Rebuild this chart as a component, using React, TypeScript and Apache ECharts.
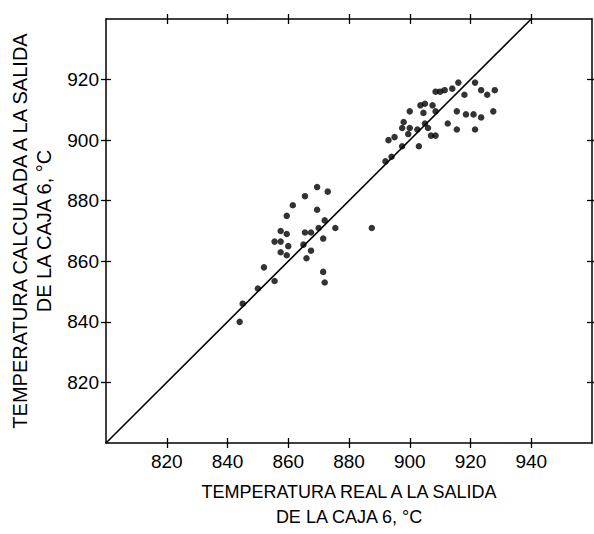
import React, { useEffect, useRef } from "react";
import * as echarts from "echarts";

const xTicks = [820, 840, 860, 880, 900, 920, 940];
const yTicks = [820, 840, 860, 880, 900, 920];
const xTitle = "TEMPERATURA REAL A LA SALIDA\nDE LA CAJA 6, °C";
const yTitle = "TEMPERATURA CALCULADA A LA SALIDA\nDE LA CAJA 6, °C";
const identityLine = [[800, 800], [940, 940]];

const realTemp = [
  844, 845, 850, 855.5, 852, 857.5, 859.5, 860, 855.5, 857.5, 859.5, 857.5, 859.5, 861.5, 865.5,
  869.5, 873, 869.5, 872, 875.5, 870, 865.5, 867.5, 871.5, 865, 867.5, 866, 871.5, 872, 887.5,
  892, 894, 893, 895, 897.5, 903, 898, 897.5, 900, 902.5, 899.5, 900, 903.5, 905, 907.5,
  908.5, 904.5, 905, 906, 907, 908.5, 908.5, 910, 911.5, 914, 916, 918, 921.5, 923.5, 925.5,
  928, 915.5, 912.5, 918.5, 921, 923.5, 927.5, 915.5, 921.5,
];
const calcTemp = [
  840, 846, 851, 853.5, 858, 863, 862, 865, 866.5, 866.5, 869, 870, 875, 878.5, 881.5,
  884.5, 883, 877, 873.5, 871, 871, 869.5, 869.5, 867.5, 865.5, 863.5, 861, 856.5, 853, 871,
  893, 894.5, 900, 901, 898, 898, 906, 904, 904, 903.5, 902, 909.5, 911.5, 912, 911.5,
  909.5, 909, 905.5, 904, 901.5, 901.5, 916, 916, 916.5, 917, 919, 915, 919, 916.5, 915,
  916.5, 909.5, 905.5, 908.5, 908.5, 907.5, 909.5, 903.5, 903.5,
];

const FONT = "'Liberation Sans', Arial, Helvetica, sans-serif";
const INK = "#000000";

export default function App() {
  const ref = useRef<HTMLDivElement>(null);
  useEffect(() => {
    if (!ref.current) return;
    const chart = echarts.init(ref.current, undefined, { renderer: "svg" });
    const points = realTemp.map((x, i) => [x, calcTemp[i]]);
    const lineStyle = { color: INK, width: 1.5 };
    const baseX = {
      type: "value" as const,
      min: 800,
      max: 960,
      interval: 20,
      splitLine: { show: false },
    };
    const baseY = {
      type: "value" as const,
      min: 800,
      max: 940,
      interval: 20,
      splitLine: { show: false },
    };
    const tick = (vals: number[], inside: boolean) => ({
      show: true,
      inside,
      length: 5,
      customValues: vals,
      lineStyle: { color: INK, width: 1.3 },
    });
    chart.setOption({
      animation: false,
      backgroundColor: "#ffffff",
      grid: { left: 103, top: 19, right: 2, bottom: 82, containLabel: false },
      xAxis: [
        {
          ...baseX,
          position: "bottom",
          axisLine: { show: true, lineStyle },
          axisTick: tick(xTicks, false),
          axisLabel: {
            show: true,
            customValues: xTicks,
            color: INK,
            fontSize: 19,
            fontFamily: FONT,
            margin: 9,
          },
          name: xTitle,
          nameLocation: "middle",
          nameGap: 36,
          nameTextStyle: { color: INK, fontSize: 18, fontFamily: FONT, lineHeight: 25 },
        },
        { ...baseX, position: "bottom", axisLine: { show: false }, axisTick: tick(xTicks, true), axisLabel: { show: false } },
        { ...baseX, position: "top", axisLine: { show: true, lineStyle }, axisTick: tick(xTicks, false), axisLabel: { show: false } },
        { ...baseX, position: "top", axisLine: { show: false }, axisTick: tick(xTicks, true), axisLabel: { show: false } },
      ],
      yAxis: [
        {
          ...baseY,
          position: "left",
          axisLine: { show: true, lineStyle },
          axisTick: tick(yTicks, false),
          axisLabel: {
            show: true,
            customValues: yTicks,
            color: INK,
            fontSize: 19,
            fontFamily: FONT,
            margin: 7,
          },
          name: yTitle,
          nameLocation: "middle",
          nameGap: 50,
          nameTextStyle: { color: INK, fontSize: 20, fontFamily: FONT, lineHeight: 24 },
        },
        { ...baseY, position: "left", axisLine: { show: false }, axisTick: tick(yTicks, true), axisLabel: { show: false } },
        { ...baseY, position: "right", axisLine: { show: true, lineStyle }, axisTick: tick(yTicks, false), axisLabel: { show: false } },
        { ...baseY, position: "right", axisLine: { show: false }, axisTick: tick(yTicks, true), axisLabel: { show: false } },
      ],
      series: [
        {
          type: "line",
          data: identityLine,
          symbol: "none",
          lineStyle: { color: INK, width: 1.6 },
          silent: true,
        },
        {
          type: "scatter",
          data: points,
          symbol: "circle",
          symbolSize: 6.5,
          itemStyle: { color: INK },
        },
      ],
    });
    return () => chart.dispose();
  }, []);
  return (
    <div
      ref={ref}
      style={{ position: "fixed", left: 0, top: 0, width: 594, height: 534, background: "#fff" }}
    />
  );
}
